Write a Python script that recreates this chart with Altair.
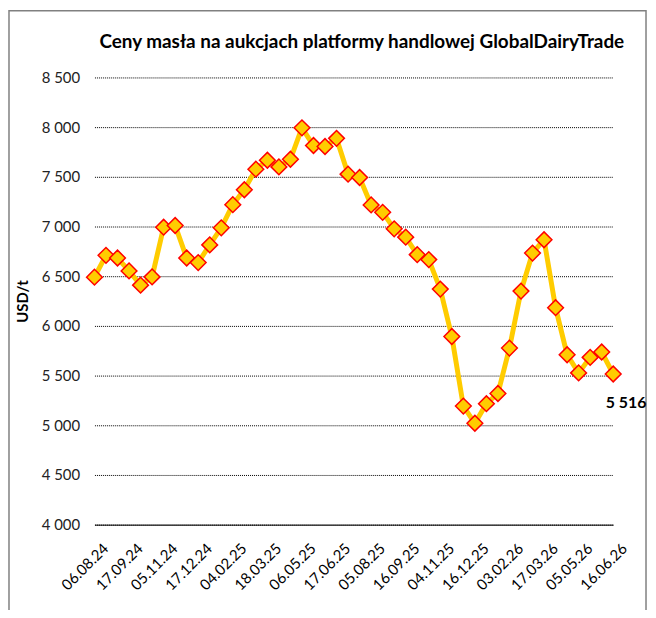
import altair as alt
import pandas as pd

dates = [
    "06.08.24", "20.08.24", "03.09.24", "17.09.24", "01.10.24", "15.10.24",
    "05.11.24", "19.11.24", "03.12.24", "17.12.24", "07.01.25", "21.01.25",
    "04.02.25", "18.02.25", "04.03.25", "18.03.25", "01.04.25", "15.04.25",
    "06.05.25", "20.05.25", "03.06.25", "17.06.25", "01.07.25", "15.07.25",
    "05.08.25", "19.08.25", "02.09.25", "16.09.25", "07.10.25", "21.10.25",
    "04.11.25", "18.11.25", "02.12.25", "16.12.25", "06.01.26", "20.01.26",
    "03.02.26", "17.02.26", "03.03.26", "17.03.26", "07.04.26", "21.04.26",
    "05.05.26", "19.05.26", "02.06.26", "16.06.26",
]
prices = [
    6490, 6710, 6683, 6553, 6410, 6493, 6993, 7010, 6683, 6637,
    6815, 6987, 7220, 7370, 7577, 7667, 7600, 7677, 7993, 7815,
    7805, 7887, 7527, 7493, 7217, 7143, 6977, 6893, 6717, 6667,
    6370, 5893, 5193, 5020, 5217, 5320, 5777, 6350, 6733, 6867,
    6183, 5710, 5527, 5683, 5737, 5516,
]
shown_labels = dates[::3]
title_text = "Ceny masła na aukcjach platformy handlowej GlobalDairyTrade"
y_title = "USD/t"

df = pd.DataFrame({"data": dates, "cena": prices, "idx": list(range(len(dates)))})
last_idx = len(dates) - 1

x_enc = alt.X(
    "data:O",
    sort=None,
    scale=alt.Scale(type="point", padding=0),
    axis=alt.Axis(
        values=shown_labels,
        title=None,
        labelAngle=-45,
        labelAlign="right",
        labelBaseline="middle",
        labelOffset=11,
        labelPadding=21,
        labelFontSize=15,
        labelFont="Lato",
        labelColor="#000000",
        ticks=False,
        domain=True,
        domainColor="#000000",
        domainWidth=1,
        grid=False,
    ),
)
y_enc = alt.Y(
    "cena:Q",
    scale=alt.Scale(domain=[4000, 8500], nice=False, zero=False),
    axis=alt.Axis(
        values=[4000, 4500, 5000, 5500, 6000, 6500, 7000, 7500, 8000, 8500],
        format=",d",
        title=y_title,
        titleFont="Lato",
        titleFontSize=15,
        titleFontWeight="bold",
        titleColor="#000000",
        titlePadding=11,
        labelFont="Lato",
        labelFontSize=15,
        labelColor="#222222",
        labelPadding=15,
        ticks=False,
        domain=False,
        grid=True,
        gridColor="#000000",
        gridDash=[1, 1],
        gridWidth=1,
    ),
)

base = alt.Chart(df)

line = base.mark_line(color="#FFCC00", strokeWidth=5).encode(x=x_enc, y=y_enc)
points = base.mark_point(
    shape="diamond", size=250, filled=True, fill="#FFCC00",
    stroke="#FF0000", strokeWidth=1.5, opacity=1,
).encode(x=x_enc, y=y_enc)
label = base.transform_filter(alt.datum.idx == last_idx).mark_text(
    font="Lato", fontSize=16, fontWeight="bold", color="#000000",
    dx=13, dy=29, align="center", baseline="middle",
).encode(x=x_enc, y=y_enc, text=alt.Text("cena:Q", format=",d"))

frame = alt.Chart(pd.DataFrame({"a": [0]})).mark_rect(
    filled=False, stroke="#808080", strokeWidth=1.5
).encode(
    x=alt.value(-86), x2=alt.value(555), y=alt.value(-67), y2=alt.value(620)
)

chart = alt.layer(frame, line, points, label).properties(
    width=522,
    height=450,
    title=alt.TitleParams(
        text=title_text, font="Lato", fontSize=19, fontWeight="bold",
        color="#000000", anchor="middle", frame="group", dx=8, dy=42, offset=0,
    ),
    autosize=alt.AutoSizeParams(type="none"),
    padding={"left": 87, "top": 68, "right": 35, "bottom": 84},
).configure(
    locale={"number": {"decimal": ",", "thousands": " ", "grouping": [3], "currency": ["", " zł"]}}
).configure_view(stroke=None)

chart.save("out.html", embed_options={"renderer": "svg", "actions": False})
